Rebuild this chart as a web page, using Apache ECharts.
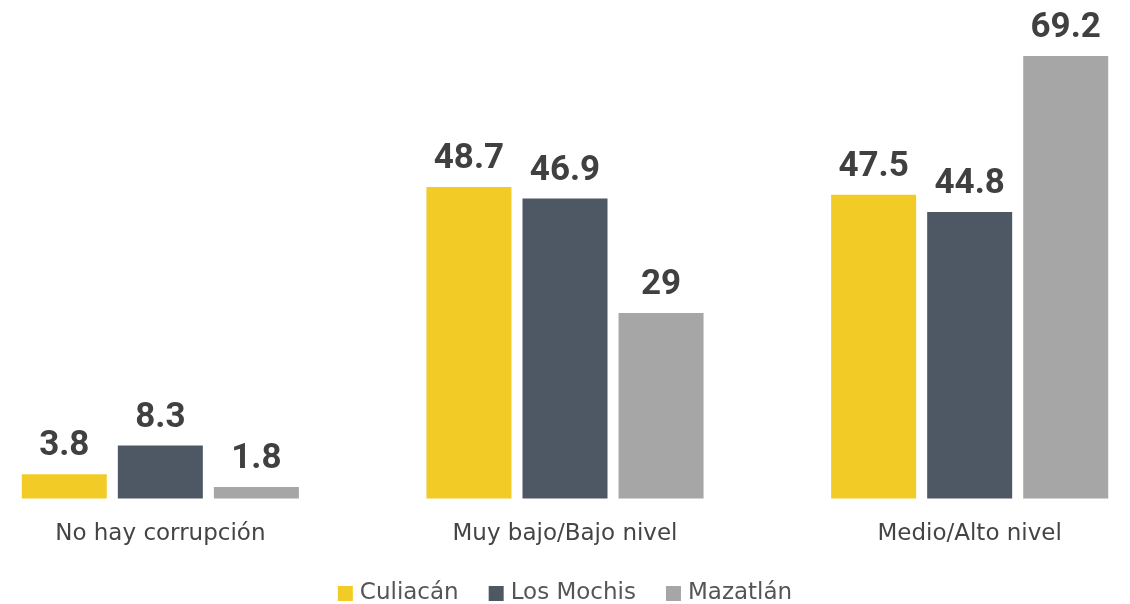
<!DOCTYPE html>
<html>
<head>
<meta charset="utf-8">
<script src="https://cdn.jsdelivr.net/npm/echarts@6/dist/echarts.min.js"></script>
<style>
  html, body { margin: 0; padding: 0; background: #fff; overflow: hidden; }
  #main { position: absolute; left: -42px; top: 0; width: 1214px; height: 604px; }
</style>
</head>
<body>
<div id="main"></div>
<script>
const categories = ['No hay corrupción', 'Muy bajo/Bajo nivel', 'Medio/Alto nivel'];
const culiacan = [3.8, 48.7, 47.5];
const losMochis = [8.3, 46.9, 44.8];
const mazatlan = [1.8, 29, 69.2];

const seriesNames = ['Culiacán', 'Los Mochis', 'Mazatlán'];
const colors = ['#F2CB27', '#4E5865', '#A6A6A6'];

var myChart = echarts.init(document.getElementById('main'));

function makeSeries(name, data, color) {
  return {
    name: name,
    type: 'bar',
    data: data,
    barWidth: 85,
    barGap: '13%',
    itemStyle: { color: color },
    label: {
      show: true,
      position: 'top',
      distance: 10,
      color: '#404040',
      fontSize: 35,
      fontWeight: 'bold',
      fontFamily: 'Roboto'
    }
  };
}

var option = {
  color: colors,
  grid: { left: 0, right: 0, top: 56, bottom: 105.5 },
  legend: {
    top: 577,
    left: 'center',
    itemWidth: 15,
    itemHeight: 15,
    itemGap: 30,
    icon: 'rect',
    textStyle: { color: '#555', fontSize: 23, fontFamily: 'DejaVu Sans', padding: [0, 0, 0, 2] }
  },
  xAxis: {
    type: 'category',
    data: categories,
    axisLine: { show: false },
    axisTick: { show: false },
    axisLabel: { color: '#444', fontSize: 23, margin: 24, fontFamily: 'DejaVu Sans' }
  },
  yAxis: {
    type: 'value',
    min: 0,
    max: 69.2,
    show: false,
    splitLine: { show: false }
  },
  series: [
    makeSeries(seriesNames[0], culiacan, colors[0]),
    makeSeries(seriesNames[1], losMochis, colors[1]),
    makeSeries(seriesNames[2], mazatlan, colors[2])
  ]
};
myChart.setOption(option);
</script>
</body>
</html>
